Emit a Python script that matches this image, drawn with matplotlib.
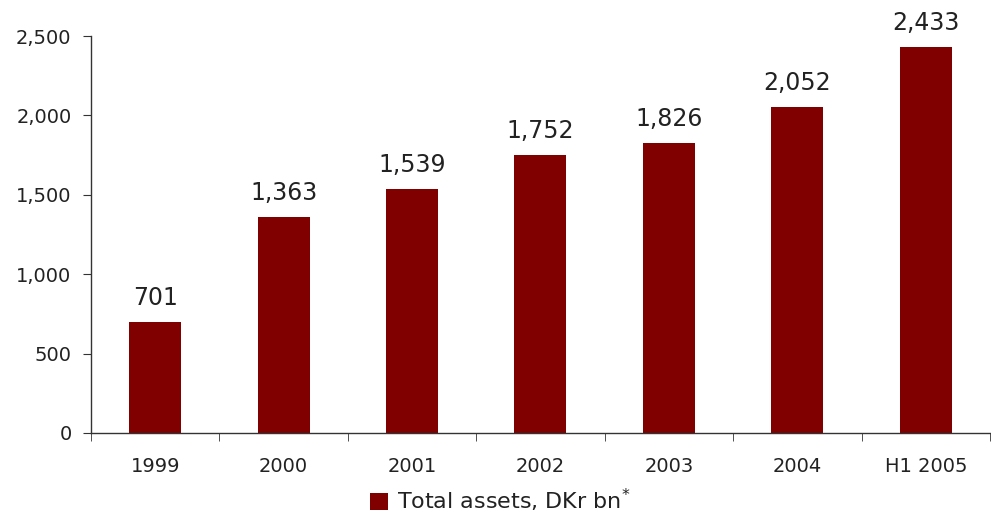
import matplotlib.pyplot as plt
import numpy as np

# total assets by year, DKr bn
years = ["1999", "2000", "2001", "2002", "2003", "2004", "H1 2005"]
assets = [701, 1363, 1539, 1752, 1826, 2052, 2433]
yticks = [0, 500, 1000, 1500, 2000, 2500]

bar_color = "#800000"
text_color = "#222222"

fig = plt.figure(figsize=(9.91, 5.16), dpi=100)
ax = fig.add_axes([0.0918, 0.1609, 0.9072, 0.7693])

x = np.arange(len(years))
bars = ax.bar(x, assets, width=0.405, color=bar_color, label=r"Total assets, DKr bn$^{*}$")

for xi, v in zip(x, assets):
    ax.annotate(f"{v:,}", (xi, v), xytext=(0, 8.5), textcoords="offset points",
                ha="center", va="bottom", fontsize=17, color=text_color)

ax.set_xlim(-0.5, len(years) - 0.5)
ax.set_ylim(0, 2500)
ax.set_yticks(yticks)
ax.set_yticklabels([f"{t:,}" for t in yticks], fontsize=14, color=text_color)

# labels under the bars, tick marks between categories
ax.set_xticks(x)
ax.set_xticklabels(years, fontsize=14, color=text_color)
ax.tick_params(axis="x", which="major", length=0, pad=17)
ax.set_xticks(np.arange(-0.5, len(years)), minor=True)
ax.tick_params(axis="x", which="minor", length=6, direction="out", color="#333333")
ax.tick_params(axis="y", length=6, direction="out", color="#333333", pad=8)

for s in ["top", "right"]:
    ax.spines[s].set_visible(False)
for s in ["left", "bottom"]:
    ax.spines[s].set_color("#333333")
    ax.spines[s].set_linewidth(1)

fig.legend(handles=[bars], loc="lower center", bbox_to_anchor=(0.505, -0.035),
           frameon=False, fontsize=16, handlelength=0.8, handleheight=0.8,
           handletextpad=0.4, labelcolor=text_color)

fig.savefig("out.png", dpi=100)
